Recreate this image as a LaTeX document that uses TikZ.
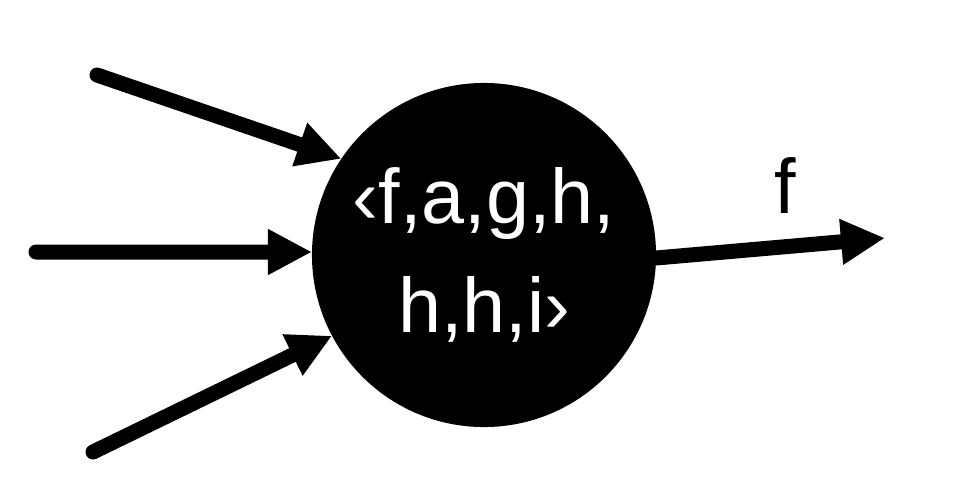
\documentclass[tikz,border=0pt]{standalone}
\usepackage{fontspec}
\setmainfont{Liberation Sans}
\usepackage{tikz}
\usetikzlibrary{arrows.meta}

\begin{document}
\begin{tikzpicture}[x=0.025cm,y=-0.025cm,
  >={Triangle[length=1.1cm,width=1.07cm]},
  arr/.style={->,line width=0.375cm,line cap=round},
  hub/.style={circle,fill=black,minimum size=8.6cm,inner sep=0pt,outer sep=0pt,
    text=white,align=center,font=\fontsize{55}{78}\selectfont}]
\useasboundingbox (0,0) rectangle (960,482);
\node[hub] (cell) at (484,255) {‹f,a,g,h,\\h,h,i›};
\coordinate (in1) at (97,75);
\coordinate (in2) at (36,252);
\coordinate (in3) at (93,452);
\coordinate (out) at (885,238);
\draw[arr] (in1) -- (cell.146);
\draw[arr] (in2) -- (cell.179);
\draw[arr] (in3) -- (cell.208);
\draw[arr] (cell.-1) -- (out);
\node[font=\fontsize{55}{66}\selectfont,anchor=base] (lbl) at (785,213) {f};
\end{tikzpicture}
\end{document}
